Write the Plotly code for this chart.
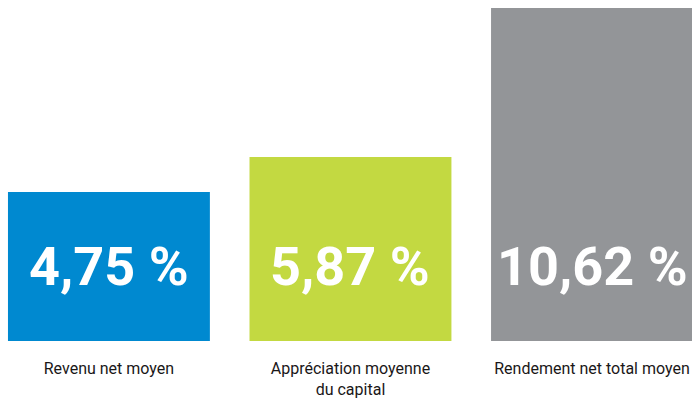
import plotly.graph_objects as go

categories = ["Revenu net moyen", "Appréciation moyenne<br>du capital", "Rendement net total moyen"]
values = [4.75, 5.87, 10.62]
value_labels = ["4,75 %", "5,87 %", "10,62 %"]
colors = ["#0089D0", "#C3D941", "#939598"]

FONT = "Roboto, Liberation Sans, Arial, sans-serif"

fig = go.Figure()
fig.add_trace(go.Bar(
    x=categories, y=values,
    marker=dict(color=colors, line=dict(width=0)),
    hoverinfo="skip",
))

for c, lab in zip(categories, value_labels):
    fig.add_annotation(
        x=c, y=2.36, xref="x", yref="y", text="<b>%s</b>" % lab,
        showarrow=False, yanchor="middle", xanchor="center",
        font=dict(family=FONT, size=54, color="white", weight=900),
    )

fig.update_layout(
    width=692, height=400,
    margin=dict(l=0, r=0, t=0, b=59),
    paper_bgcolor="white", plot_bgcolor="white",
    bargap=0.164,
    showlegend=False,
    xaxis=dict(
        range=[-0.451, 2.414], showgrid=False, zeroline=False, showline=False,
        ticks="", ticklabelstandoff=16,
        tickfont=dict(family=FONT, size=16, color="#1A1718"),
        fixedrange=True,
    ),
    yaxis=dict(range=[0, 10.874], visible=False, fixedrange=True),
)

fig.write_html("out.html", config={"displayModeBar": False},
               post_script="document.body.style.margin='0';document.body.style.overflow='hidden';")
